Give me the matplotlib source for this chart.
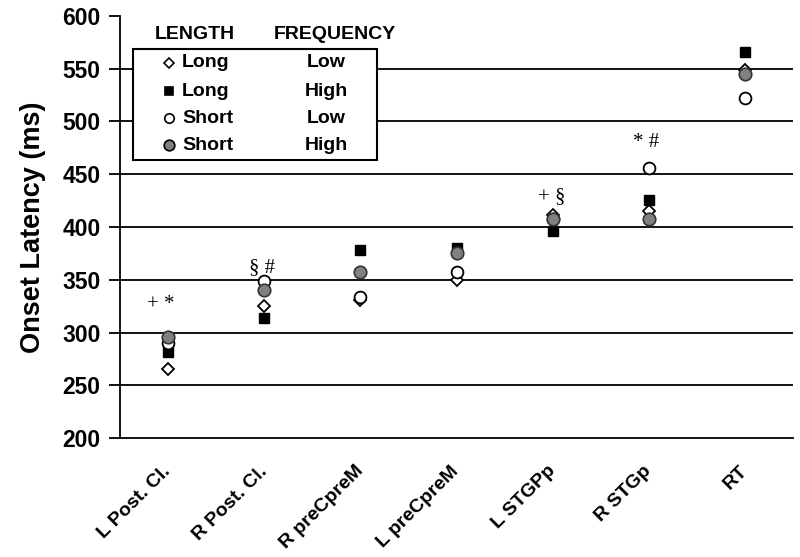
import matplotlib.pyplot as plt
from matplotlib.patches import Rectangle

plt.rcParams['font.family'] = ['Liberation Sans', 'DejaVu Sans']

regions = ["L Post. Cl.", "R Post. Cl.", "R preCpreM", "L preCpreM",
           "L STGPp", "R STGp", "RT"]

# onset latency (ms) per condition
long_low = [265, 325, 331, 350, 411, 415, 549]
long_high = [282, 314, 378, 380, 396, 426, 566]
short_low = [290, 349, 334, 357, 408, 456, 522]
short_high = [296, 340, 357, 375, 408, 408, 545]

# significance marks: (x position, y position, text)
sig_marks = [(-0.08, 327, "+ *"), (0.98, 362, "§ #"),
             (3.985, 429, "+ §"), (4.975, 480, "* #")]

fig = plt.figure(figsize=(8, 5.57), dpi=100)
ax = fig.add_axes([0.15, 0.2136, 0.84125, 0.7577])

x = list(range(len(regions)))

ax.plot(x, long_low, linestyle="none", marker="D", markersize=6.4,
        markerfacecolor="white", markeredgecolor="black", markeredgewidth=1.3, zorder=3)
ax.plot(x, long_high, linestyle="none", marker="s", markersize=7,
        markerfacecolor="black", markeredgecolor="black", zorder=4)
ax.plot(x, short_low, linestyle="none", marker="o", markersize=8.5,
        markerfacecolor="white", markeredgecolor="black", markeredgewidth=1.3, zorder=5)
ax.plot(x, short_high, linestyle="none", marker="o", markersize=9,
        markerfacecolor="#808080", markeredgecolor="#333333", markeredgewidth=1.2, zorder=6)

for xx, y, txt in sig_marks:
    ax.text(xx, y, txt, ha="center", va="center", fontsize=15,
            family="Liberation Serif")

ax.set_xlim(-0.5, 6.5)
ax.set_ylim(200, 600)
ax.set_yticks(range(200, 601, 50))
for yy in range(250, 551, 50):
    ax.axhline(yy, color="black", linewidth=1.3, zorder=1)

ax.set_xticks(x)
ax.set_xticklabels(regions, rotation=45, ha="right", va="center",
                   rotation_mode="anchor", fontsize=14, fontweight="bold")
ax.tick_params(axis="x", length=0, pad=22)
ax.tick_params(axis="y", direction="out", length=8, width=1.3, labelsize=16.5, pad=6)
for lbl in ax.get_yticklabels():
    lbl.set_fontweight("bold")

ax.spines["top"].set_visible(False)
ax.spines["right"].set_visible(False)
ax.spines["left"].set_linewidth(1.3)
ax.spines["bottom"].set_linewidth(1.3)

ax.set_ylabel("Onset Latency (ms)", fontsize=19.5, fontweight="bold", labelpad=12)

# hand-built legend
ax.add_patch(Rectangle((0.0193, 0.659), 0.3627, 0.263, transform=ax.transAxes,
                       facecolor="white", edgecolor="black", linewidth=1.5, zorder=7))
ax.text(0.111, 0.955, "LENGTH", transform=ax.transAxes, ha="center", va="center",
        fontsize=14, fontweight="bold")
ax.text(0.319, 0.955, "FREQUENCY", transform=ax.transAxes, ha="center", va="center",
        fontsize=14, fontweight="bold")

rows = [("D", "white", 6, "Long", "Low"),
        ("s", "black", 7, "Long", "High"),
        ("o", "white", 8, "Short", "Low"),
        ("o", "#808080", 9, "Short", "High")]
row_y = [0.889, 0.822, 0.758, 0.694]
for (mk, fc, ms, length, freq), yy in zip(rows, row_y):
    ax.plot([0.0728], [yy], transform=ax.transAxes, marker=mk, markersize=ms * 0.85,
            markerfacecolor=fc, markeredgecolor="black", markeredgewidth=1.2,
            linestyle="none", zorder=8, clip_on=False)
    ax.text(0.092, yy, length, transform=ax.transAxes, ha="left", va="center",
            fontsize=14, fontweight="bold", zorder=8)
    ax.text(0.306, yy, freq, transform=ax.transAxes, ha="center", va="center",
            fontsize=14, fontweight="bold", zorder=8)

fig.savefig("out.png", dpi=100)
